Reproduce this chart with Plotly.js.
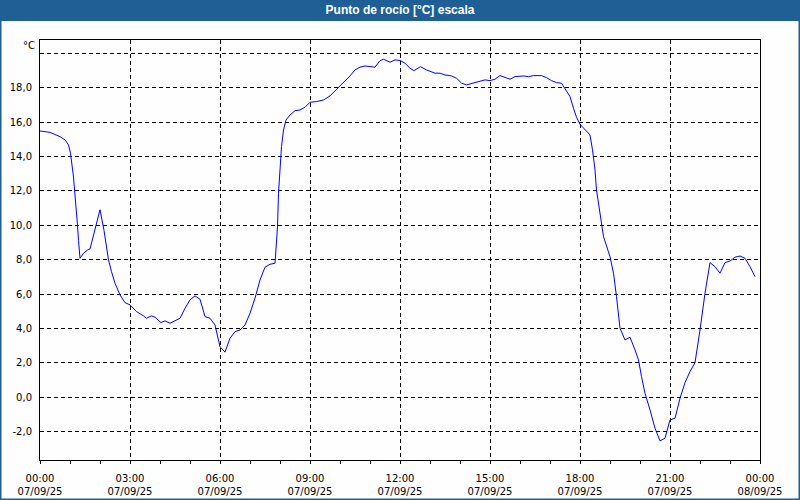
<!DOCTYPE html>
<html>
<head>
<meta charset="utf-8">
<script src="https://cdn.plot.ly/plotly-3.0.1.min.js"></script>
<style>html,body{margin:0;padding:0;background:#fdfefd;}#chart{width:800px;height:500px;}</style>
</head>
<body>
<div id="chart"></div>
<script>
// Times (07/09/25) and dew point values [°C]
const times = ["00:00","00:20","00:40","00:50","00:57","01:01","01:07","01:13","01:15","01:17","01:20","01:27","01:35","01:40","01:50",
"02:00","02:08","02:17","02:23","02:30","02:40","02:50","03:00","03:07","03:13","03:27","03:33","03:43","03:50","04:02","04:10",
"04:20","04:30","04:40","04:50","05:00","05:10","05:20","05:30","05:40","05:50","06:00","06:10","06:20","06:30","06:40","06:50",
"07:00","07:10","07:20","07:30","07:40","07:50","07:55","07:57","08:00","08:03","08:07","08:12","08:20","08:30","08:40","08:50",
"09:00","09:13","09:27","09:40","09:53","10:07","10:20","10:30","10:40","10:50","11:10","11:20","11:27","11:40","11:50","12:00",
"12:10","12:20","12:28","12:41","12:53","13:10","13:20","13:30","13:43","13:53","14:03","14:13","14:27","14:40","14:50","15:00",
"15:10","15:20","15:30","15:40","15:50","16:07","16:17","16:27","16:43","16:53","17:03","17:13","17:23","17:30","17:40","17:47",
"17:53","18:00","18:10","18:20","18:25","18:30","18:33","18:39","18:47","19:00","19:07","19:13","19:20","19:30","19:40","19:50",
"19:57","20:03","20:10","20:20","20:30","20:40","20:50","21:00","21:10","21:20","21:30","21:40","21:50","22:00","22:10","22:20",
"22:30","22:40","22:50","23:00","23:10","23:20","23:30","23:40","23:50"];
const dewPoint = [15.48,15.40,15.15,14.96,14.67,14.19,12.80,10.90,10.00,9.10,8.08,8.37,8.56,8.62,9.70,
10.90,9.70,7.98,7.30,6.63,5.95,5.50,5.37,5.17,4.98,4.73,4.59,4.73,4.65,4.34,4.44,
4.30,4.45,4.59,5.17,5.66,5.89,5.70,4.69,4.59,4.20,2.94,2.62,3.43,3.81,3.91,4.20,
4.88,5.76,6.82,7.56,7.73,7.79,9.90,11.86,13.60,14.57,15.54,16.12,16.41,16.66,16.70,16.86,
17.15,17.19,17.28,17.52,17.90,18.29,18.68,19.03,19.19,19.26,19.19,19.57,19.65,19.48,19.61,19.58,
19.42,19.13,18.99,19.22,19.03,18.84,18.84,18.74,18.68,18.55,18.26,18.16,18.26,18.35,18.45,18.41,
18.49,18.70,18.60,18.49,18.64,18.68,18.64,18.70,18.70,18.58,18.41,18.29,18.26,17.97,17.48,16.80,
16.28,15.87,15.58,15.25,14.38,13.22,12.05,10.99,9.34,8.17,7.21,5.85,4.01,3.33,3.49,2.75,
2.17,1.20,0.23,-0.74,-1.80,-2.54,-2.38,-1.32,-1.22,-0.06,0.85,1.49,2.01,3.91,6.05,7.83,
7.59,7.21,7.83,7.92,8.14,8.21,8.08,7.59,7.01];

const xTickVals = ["2025-09-07 00:00","2025-09-07 03:00","2025-09-07 06:00","2025-09-07 09:00","2025-09-07 12:00",
"2025-09-07 15:00","2025-09-07 18:00","2025-09-07 21:00","2025-09-08 00:00"];
const xTickText = ["00:00<br>07/09/25","03:00<br>07/09/25","06:00<br>07/09/25","09:00<br>07/09/25","12:00<br>07/09/25",
"15:00<br>07/09/25","18:00<br>07/09/25","21:00<br>07/09/25","00:00<br>08/09/25"];
const yTickVals = [-2,0,2,4,6,8,10,12,14,16,18,20];
const yTickText = ["-2,0","0,0","2,0","4,0","6,0","8,0","10,0","12,0","14,0","16,0","18,0",""];

const xs = times.map(t => "2025-09-07 " + t);

const W = 800, H = 500, L = 40, R = 40, T = 40, B = 40;
const pw = W - L - R, ph = H - T - B;
const px = v => (v - L) / pw;
const py = v => (H - B - v) / ph;

const blue = "rgb(31,95,150)";
const font = {family: "DejaVu Sans, Tahoma, sans-serif", size: 10, color: "#000"};

Plotly.newPlot("chart", [{
  type: "scatter", mode: "lines", x: xs, y: dewPoint,
  line: {color: "#0000ff", width: 1}, hoverinfo: "skip"
}], {
  width: W, height: H,
  margin: {l: L, r: R, t: T, b: B, pad: 0},
  paper_bgcolor: "#fdfefd", plot_bgcolor: "#fdfefd",
  showlegend: false,
  font: font,
  title: {text: "<b>Punto de rocío [°C] escala</b>", font: {family: "Liberation Sans, Arial, sans-serif", size: 12, color: "#fff"},
    xref: "paper", x: 0.5, xanchor: "center", yref: "container", y: 0.98, yanchor: "middle"},
  xaxis: {
    type: "date", range: ["2025-09-07 00:00", "2025-09-08 00:00"],
    tickmode: "array", tickvals: xTickVals, ticktext: xTickText,
    ticks: "outside", ticklen: 3, tickcolor: "#000", tickwidth: 1,
    ticklabelstandoff: 6,
    minor: {dtick: 3600000, tick0: "2025-09-07 00:00", ticks: "outside", ticklen: 3, tickcolor: "#000", showgrid: false},
    showgrid: true, gridcolor: "#000", gridwidth: 1, griddash: "4px,3px",
    showline: true, linecolor: "#000", linewidth: 1, mirror: true,
    zeroline: false, fixedrange: true, tickfont: font
  },
  yaxis: {
    range: [-3.65, 20.77],
    tickmode: "array", tickvals: yTickVals, ticktext: yTickText,
    ticks: "", ticklabelstandoff: 5,
    showgrid: true, gridcolor: "#000", gridwidth: 1, griddash: "4px,3px",
    showline: true, linecolor: "#000", linewidth: 1, mirror: true,
    zeroline: false, fixedrange: true, tickfont: font
  },
  shapes: [
    {type: "rect", xref: "paper", yref: "paper", layer: "below",
     x0: px(0), x1: px(W), y0: py(0), y1: py(21), fillcolor: blue, line: {width: 0}},
    {type: "rect", xref: "paper", yref: "paper", layer: "below",
     x0: px(0.75), x1: px(W - 0.75), y0: py(0), y1: py(H - 0.75), fillcolor: "rgba(0,0,0,0)", line: {color: blue, width: 1.5}}
  ],
  annotations: [
    {text: "°C", xref: "paper", yref: "paper", x: px(37), y: py(46), xanchor: "right", yanchor: "middle",
     showarrow: false, font: font}
  ]
}, {staticPlot: true, displayModeBar: false});
</script>
</body>
</html>
